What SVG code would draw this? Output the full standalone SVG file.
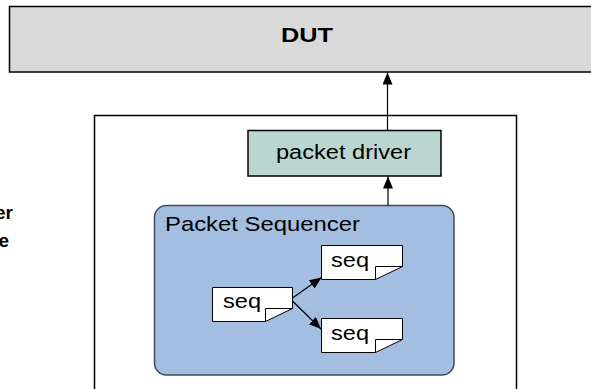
<svg xmlns="http://www.w3.org/2000/svg" width="591" height="389" viewBox="0 0 591 389">
<style>
.t{font-family:"Liberation Sans",Arial,sans-serif;fill:#000}
.b{font-weight:bold}
.note{fill:#fff;stroke:#000;stroke-width:1}
.fold{fill:none;stroke:#000;stroke-width:1}
.conn{stroke:#000;stroke-width:1.2;fill:none}
</style>
<defs>
<marker id="ah" viewBox="0 0 12 10" refX="12" refY="5" markerWidth="12" markerHeight="10" markerUnits="userSpaceOnUse" orient="auto">
<path d="M0,0 L12,5 L0,10 Z" fill="#000"/>
</marker>
</defs>
<rect width="591" height="389" fill="#fff"/>
<g id="dut">
<rect x="9.5" y="6.5" width="600" height="65.5" fill="#d9d9d9" stroke="#000" stroke-width="1.5"/>
<text class="t b" x="307" y="42" font-size="20" text-anchor="middle" textLength="52" lengthAdjust="spacingAndGlyphs">DUT</text>
</g>
<g id="agent">
<path d="M94.5,392 V115.5 H516.5 V392" fill="none" stroke="#000" stroke-width="1.5"/>
</g>
<g id="left-label">
<text class="t b" x="13" y="219" font-size="19" text-anchor="end">er</text>
<text class="t b" x="9" y="247" font-size="19" text-anchor="end">e</text>
</g>
<g id="driver">
<rect x="248" y="130.5" width="193" height="45.5" fill="#bad6d1" stroke="#000" stroke-width="1.5"/>
<text class="t" x="276" y="159" font-size="20" textLength="135" lengthAdjust="spacingAndGlyphs">packet driver</text>
</g>
<g id="sequencer">
<rect x="154.5" y="205.5" width="299.5" height="169.5" rx="12" ry="12" fill="#a4bee1" stroke="#3e4c5c" stroke-width="1.5"/>
<text class="t" x="165" y="231" font-size="21" textLength="195" lengthAdjust="spacingAndGlyphs">Packet Sequencer</text>
</g>
<g id="seq1">
<path class="note" d="M212.5,287.5 H292.5 V308.5 L265.5,321.5 H212.5 Z"/>
<path class="fold" d="M265.5,321.5 V308.5 H292.5"/>
<text class="t" x="223" y="308" font-size="21" textLength="38" lengthAdjust="spacingAndGlyphs">seq</text>
</g>
<g id="seq2">
<path class="note" d="M321.5,245.5 H402.5 V266.5 L375.5,279.5 H321.5 Z"/>
<path class="fold" d="M375.5,279.5 V266.5 H402.5"/>
<text class="t" x="331" y="267" font-size="21" textLength="38" lengthAdjust="spacingAndGlyphs">seq</text>
</g>
<g id="seq3">
<path class="note" d="M321.5,318.5 H402.5 V339.5 L375.5,352.5 H321.5 Z"/>
<path class="fold" d="M375.5,352.5 V339.5 H402.5"/>
<text class="t" x="331" y="340" font-size="21" textLength="38" lengthAdjust="spacingAndGlyphs">seq</text>
</g>
<g id="connectors">
<line class="conn" x1="387.5" y1="130" x2="387.5" y2="72.5" marker-end="url(#ah)"/>
<line class="conn" x1="388" y1="205" x2="388" y2="176.5" stroke="#555" marker-end="url(#ah)"/>
<line class="conn" x1="292.5" y1="298" x2="321.5" y2="277.5" stroke="#333" stroke-width="1" marker-end="url(#ah)"/>
<line class="conn" x1="292.5" y1="301" x2="321" y2="329" stroke="#333" stroke-width="1" marker-end="url(#ah)"/>
</g>
</svg>
